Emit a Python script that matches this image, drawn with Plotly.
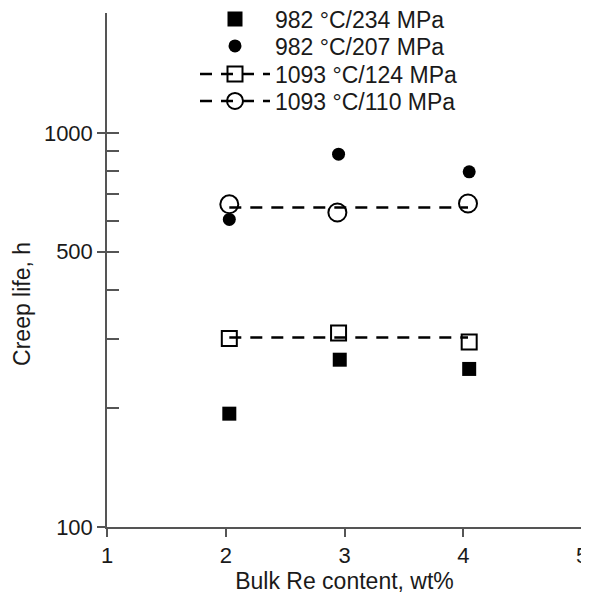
import math
import plotly.graph_objects as go

# ---- data ----
x_234 = [2.03, 2.96, 4.05]
y_234 = [194, 266, 252]
x_207 = [2.03, 2.95, 4.05]
y_207 = [604, 885, 798]
x_124 = [2.03, 2.95, 4.05]
y_124 = [301, 311, 295]
x_110 = [2.03, 2.94, 4.04]
y_110 = [660, 629, 663]
fit_x = [2.03, 4.04]
fit_124 = [303, 303]
fit_110 = [648, 648]

names = ["982 °C/234 MPa", "982 °C/207 MPa", "1093 °C/124 MPa", "1093 °C/110 MPa"]
x_ticks = [1, 2, 3, 4, 5]
y_major = [100, 500, 1000]
y_minor = [200, 300, 400, 500, 600, 700, 800, 900, 1000]
y_top = 2020
x_title = "Bulk Re content, wt%"
y_title = "Creep life, h"

FONT = "Liberation Sans, Arial, sans-serif"
AX = "#555555"
TXT = "#1a1a1a"
# the page body adds an 8px offset; size the figure so it fits the window
W, H = 581, 586

fig = go.Figure()

# legend entries, each in its own legend for exact row spacing
legend_rows = [11, 38, 66, 93]
styles = [
    dict(mode="markers", marker=dict(symbol="square", size=15, color="black")),
    dict(mode="markers", marker=dict(symbol="circle", size=13, color="black")),
    dict(mode="lines+markers", line=dict(color="black", width=2.5, dash="12px,9px"),
         marker=dict(symbol="square-open", size=15, color="black", line=dict(width=2))),
    dict(mode="lines+markers", line=dict(color="black", width=2.5, dash="12px,9px"),
         marker=dict(symbol="circle-open", size=18, color="black", line=dict(width=2))),
]
lg_keys = ["legend", "legend2", "legend3", "legend4"]
for nm, st, lk in zip(names, styles, lg_keys):
    fig.add_trace(go.Scatter(x=[None], y=[None], name=nm, legend=lk, **st))

# fitted dashed lines
for fy in (fit_124, fit_110):
    fig.add_trace(go.Scatter(x=fit_x, y=fy, mode="lines", showlegend=False,
                             line=dict(color="black", width=2.5, dash="12px,9px")))

# data points
fig.add_trace(go.Scatter(x=x_234, y=y_234, mode="markers", showlegend=False,
                         marker=dict(symbol="square", size=14, color="black")))
fig.add_trace(go.Scatter(x=x_207, y=y_207, mode="markers", showlegend=False,
                         marker=dict(symbol="circle", size=13, color="black")))
fig.add_trace(go.Scatter(x=x_124, y=y_124, mode="markers", showlegend=False,
                         marker=dict(symbol="square-open", size=15, color="black", line=dict(width=2))))
fig.add_trace(go.Scatter(x=x_110, y=y_110, mode="markers", showlegend=False,
                         marker=dict(symbol="circle-open", size=18, color="black", line=dict(width=2))))

yr = [2, math.log10(y_top)]

lg_common = dict(xref="container", yref="container", x=187 / W, xanchor="left",
                 yanchor="middle", bgcolor="rgba(0,0,0,0)",
                 font=dict(size=23, color=TXT, family=FONT), itemwidth=70)
legends = {}
for lk, row in zip(lg_keys, legend_rows):
    legends[lk] = dict(lg_common, y=1 - row / H)

fig.update_layout(
    width=W, height=H,
    margin=dict(l=99, r=7, t=5, b=67, autoexpand=False),
    paper_bgcolor="white", plot_bgcolor="white",
    font=dict(family=FONT, size=22, color=TXT),
    showlegend=True,
    **legends,
    xaxis=dict(range=[1, 5], tickvals=x_ticks, ticks="outside", ticklen=8,
               tickcolor=AX, tickwidth=1.5, showline=True, linecolor=AX, linewidth=1.5,
               showgrid=False, zeroline=False, mirror=False, ticklabeloverflow="allow",
               title=dict(text=x_title, standoff=5, font=dict(size=23))),
    yaxis=dict(type="log", range=yr, tickvals=y_major, ticktext=[str(v) for v in y_major],
               ticks="outside", ticklen=8, tickcolor=AX, tickwidth=1.5,
               showline=True, linecolor=AX, linewidth=1.5, showgrid=False, zeroline=False),
    yaxis2=dict(type="log", range=yr, overlaying="y", side="left", tickvals=y_minor,
                ticks="inside", ticklen=12, tickcolor=AX, tickwidth=1.5,
                showticklabels=False, showline=False, showgrid=False, zeroline=False),
    annotations=[dict(text=y_title, textangle=-90, xref="paper", yref="paper",
                      x=-85 / 475, y=0.434, xanchor="center", yanchor="middle",
                      showarrow=False, font=dict(size=23, color=TXT, family=FONT))],
)
# dummy trace to activate yaxis2
fig.add_trace(go.Scatter(x=[None], y=[None], yaxis="y2", showlegend=False, hoverinfo="skip"))

fig.write_html("out.html")
